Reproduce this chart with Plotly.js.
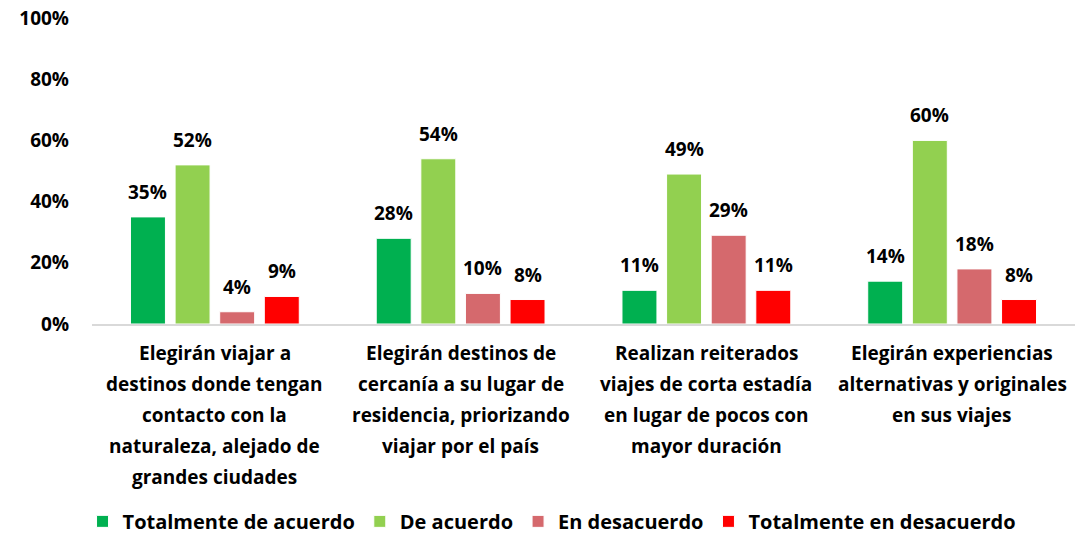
<!DOCTYPE html>
<html><head><meta charset="utf-8">
<script src="https://cdn.plot.ly/plotly-3.0.1.min.js"></script>
<style>html,body{margin:0;padding:0;background:#fff}#chart{width:1079px;height:538px}</style>
</head><body><div id="chart"></div>
<script>
const categories = [
  "Elegirán viajar a<br>destinos donde tengan<br>contacto con la<br>naturaleza, alejado de<br>grandes ciudades",
  "Elegirán destinos de<br>cercanía a su lugar de<br>residencia, priorizando<br>viajar por el país",
  "Realizan reiterados<br>viajes de corta estadía<br>en lugar de pocos con<br>mayor duración",
  "Elegirán experiencias<br>alternativas y originales<br>en sus viajes"
];
const seriesNames = ["Totalmente de acuerdo", "De acuerdo", "En desacuerdo", "Totalmente en desacuerdo"];
const totalmenteDeAcuerdo = [35, 28, 11, 14];
const deAcuerdo = [52, 54, 49, 60];
const enDesacuerdo = [4, 10, 29, 18];
const totalmenteEnDesacuerdo = [9, 8, 11, 8];
const yTickVals = [0, 20, 40, 60, 80, 100];
const yTickText = ["0%", "20%", "40%", "60%", "80%", "100%"];

const seriesValues = [totalmenteDeAcuerdo, deAcuerdo, enDesacuerdo, totalmenteEnDesacuerdo];
const colors = ["#00B050", "#92D050", "#D5696D", "#FF0000"];
const FONT = "'Open Sans', sans-serif";
const bargap = 0.274, bargroupgap = 0.216;
const xIdx = categories.map((c, i) => i);

const traces = seriesValues.map((vals, j) => ({
  type: "bar", name: seriesNames[j], x: xIdx, y: vals,
  marker: {color: colors[j], line: {color: "#ffffff", width: 1}},
  hoverinfo: "skip"
}));

const annotations = [];
const slot = (1 - bargap) / seriesValues.length;
seriesValues.forEach((vals, j) => {
  vals.forEach((v, i) => {
    annotations.push({
      x: i + (j - (seriesValues.length - 1) / 2) * slot, y: v, xref: "x", yref: "y",
      text: "<b>" + v + "%</b>", showarrow: false, yanchor: "middle", yshift: 25,
      font: {family: FONT, size: 19, color: "#000"}
    });
  });
});
categories.forEach((c, i) => {
  c.split("<br>").forEach((line, k) => {
    annotations.push({
      x: i, y: 0, xref: "x", yref: "y", text: "<b>" + line + "</b>", showarrow: false,
      yanchor: "middle", yshift: -29 - 31 * k,
      font: {family: FONT, size: 19, color: "#000"}
    });
  });
});

const layout = {
  width: 1079, height: 538,
  margin: {l: 91.5, r: 3.5, t: 17.5, b: 213.5, autoexpand: false},
  paper_bgcolor: "#fff", plot_bgcolor: "#fff",
  barmode: "group", bargap: bargap, bargroupgap: bargroupgap,
  font: {family: FONT, color: "#000"},
  xaxis: {
    type: "linear", range: [-0.5, categories.length - 0.5], showticklabels: false,
    showgrid: false, zeroline: false, showline: true, linecolor: "#D9D9D9", linewidth: 2, ticks: ""
  },
  yaxis: {
    range: [0, 100], tickvals: yTickVals, ticktext: yTickText, showgrid: false, zeroline: false,
    showline: false, ticks: "", ticklabelstandoff: 22,
    tickfont: {family: FONT, size: 19, color: "#000", weight: "bold"}
  },
  showlegend: true,
  legend: {
    orientation: "h", x: 0.468, xanchor: "center", y: -0.645, yanchor: "middle",
    font: {family: FONT, size: 20, color: "#000", weight: "bold"},
    itemwidth: 30, traceorder: "normal"
  },
  annotations: annotations
};
Plotly.newPlot("chart", traces, layout, {displayModeBar: false, staticPlot: true});
</script></body></html>
